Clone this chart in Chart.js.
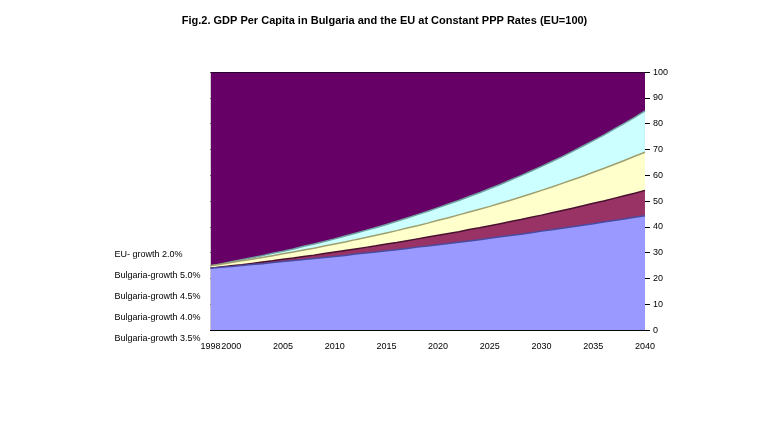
<!DOCTYPE html>
<html>
<head>
<meta charset="utf-8">
<script src="https://cdn.jsdelivr.net/npm/chart.js@4/dist/chart.umd.min.js"></script>
<style>
html,body{margin:0;padding:0;background:#fff;}
#wrap{width:763px;height:423px;}
</style>
</head>
<body>
<div id="wrap"><canvas id="c" width="763" height="423"></canvas></div>
<script>
const years = [
  1998,1999,2000,2001,2002,2003,2004,2005,2006,2007,
  2008,2009,2010,2011,2012,2013,2014,2015,2016,2017,
  2018,2019,2020,2021,2022,2023,2024,2025,2026,2027,
  2028,2029,2030,2031,2032,2033,2034,2035,2036,2037,
  2038,2039,2040
];
const seriesNames = [
  "EU- growth 2.0%",
  "Bulgaria-growth 5.0%",
  "Bulgaria-growth 4.5%",
  "Bulgaria-growth 4.0%",
  "Bulgaria-growth 3.5%"
];
const euGrowth20 = [
  100,100,100,100,100,100,100,100,100,100,
  100,100,100,100,100,100,100,100,100,100,
  100,100,100,100,100,100,100,100,100,100,
  100,100,100,100,100,100,100,100,100,100,
  100,100,100
];
const bgGrowth50 = [
  25.0,25.7,26.5,27.3,28.1,28.9,29.8,30.6,31.5,32.5,
  33.4,34.4,35.4,36.5,37.6,38.7,39.8,41.0,42.2,43.5,
  44.8,46.1,47.5,48.9,50.3,51.8,53.3,54.9,56.5,58.2,
  59.9,61.7,63.5,65.4,67.3,69.3,71.4,73.5,75.6,77.9,
  80.2,82.5,85.0
];
const bgGrowth45 = [
  25.0,25.6,26.2,26.9,27.5,28.2,28.9,29.6,30.3,31.1,
  31.8,32.6,33.4,34.2,35.1,35.9,36.8,37.7,38.6,39.6,
  40.5,41.5,42.6,43.6,44.7,45.8,46.9,48.0,49.2,50.4,
  51.6,52.9,54.2,55.5,56.9,58.3,59.7,61.2,62.7,64.2,
  65.8,67.4,69.0
];
const bgGrowth40 = [
  24.0,24.5,25.0,25.4,25.9,26.4,26.9,27.5,28.0,28.6,
  29.1,29.7,30.3,30.9,31.5,32.1,32.7,33.4,34.0,34.7,
  35.4,36.1,36.8,37.5,38.2,39.0,39.7,40.5,41.3,42.1,
  42.9,43.8,44.6,45.5,46.4,47.3,48.2,49.2,50.1,51.1,
  52.1,53.1,54.2
];
const bgGrowth35 = [
  24.0,24.4,24.7,25.1,25.5,25.8,26.2,26.6,27.0,27.4,
  27.8,28.2,28.6,29.0,29.5,29.9,30.3,30.8,31.2,31.7,
  32.2,32.6,33.1,33.6,34.1,34.6,35.1,35.6,36.2,36.7,
  37.2,37.8,38.4,38.9,39.5,40.1,40.7,41.3,41.9,42.5,
  43.1,43.8,44.4
];
const yTicks = [0,10,20,30,40,50,60,70,80,90,100];

const fills = ["#660066","#ccffff","#ffffcc","#993366","#9999ff"];
const borders = ["#2a002a","#6f9f9f","#9f9f6f","#4a1030","#4a4aa0"];
const values = [euGrowth20,bgGrowth50,bgGrowth45,bgGrowth40,bgGrowth35];

const wallPlugin = {
  id: 'wall',
  beforeDraw(chart){
    const a = chart.chartArea, ctx = chart.ctx;
    ctx.save();
    ctx.fillStyle = '#c0c0c0';
    ctx.fillRect(a.left, a.top, a.right - a.left, a.bottom - a.top);
    ctx.restore();
  }
};

new Chart(document.getElementById('c'), {
  type: 'line',
  data: {
    labels: years,
    datasets: values.map((v,i)=>({
      label: seriesNames[i],
      data: v,
      backgroundColor: fills[i],
      borderColor: borders[i],
      borderWidth: 1.5,
      pointRadius: 0,
      fill: 'origin',
      tension: 0,
      order: values.length - i
    }))
  },
  options: {
    responsive: false,
    animation: false,
    layout: { padding: { left: 98, right: 92, top: 0, bottom: 68 } },
    plugins: {
      title: {
        display: true,
        text: 'Fig.2. GDP Per Capita in Bulgaria and the EU at Constant PPP Rates (EU=100)',
        font: { family: 'Liberation Sans', size: 11, weight: 'bold' },
        color: '#000',
        padding: { top: 14, bottom: 45 }
      },
      legend: {
        position: 'left',
        align: 'end',
        reverse: true,
        labels: {
          font: { family: 'Liberation Sans', size: 9 },
          color: '#000',
          boxWidth: 0,
          boxHeight: 0,
          padding: 12
        }
      },
      tooltip: { enabled: false }
    },
    scales: {
      x: {
        grid: { display: false },
        border: { color: '#000' },
        ticks: {
          autoSkip: false,
          maxRotation: 0,
          font: { family: 'Liberation Sans', size: 9 },
          color: '#000',
          callback: function(val, idx){
            const y = years[idx];
            return (y === 1998 || y % 5 === 0) ? String(y) : '';
          }
        }
      },
      y: {
        position: 'right',
        min: 0,
        max: 100,
        afterBuildTicks: (axis) => { axis.ticks = yTicks.map(v => ({ value: v })); },
        grid: { color: '#000', lineWidth: 1, drawTicks: true, tickLength: 5 },
        border: { color: '#000' },
        ticks: {
          font: { family: 'Liberation Sans', size: 9 },
          color: '#000'
        }
      }
    }
  },
  plugins: [wallPlugin]
});
</script>
</body>
</html>
